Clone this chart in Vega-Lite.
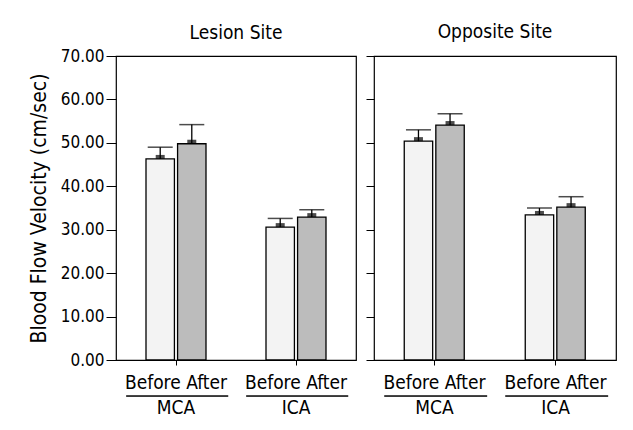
{
  "$schema": "https://vega.github.io/schema/vega-lite/v6.json",
  "padding": {"left": 27, "top": 21, "right": 10, "bottom": 5},
  "background": "white",
  "data": {"values": [
    {"site": "Lesion Site", "artery": "MCA", "time": "Before", "mean": 46.3, "upper": 49.0},
    {"site": "Lesion Site", "artery": "MCA", "time": "After", "mean": 49.8, "upper": 54.2},
    {"site": "Lesion Site", "artery": "ICA", "time": "Before", "mean": 30.6, "upper": 32.6},
    {"site": "Lesion Site", "artery": "ICA", "time": "After", "mean": 32.9, "upper": 34.6},
    {"site": "Opposite Site", "artery": "MCA", "time": "Before", "mean": 50.4, "upper": 53.0},
    {"site": "Opposite Site", "artery": "MCA", "time": "After", "mean": 54.1, "upper": 56.7},
    {"site": "Opposite Site", "artery": "ICA", "time": "Before", "mean": 33.4, "upper": 35.0},
    {"site": "Opposite Site", "artery": "ICA", "time": "After", "mean": 35.2, "upper": 37.6}
  ]},
  "config": {
    "font": "DejaVu Sans Condensed, DejaVu Sans, sans-serif",
    "view": {"stroke": "black", "strokeWidth": 1.2},
    "axis": {"labelColor": "black", "titleColor": "black", "tickColor": "black", "domain": false, "grid": false, "labelFontSize": 17, "titleFontSize": 21, "titleFontWeight": "normal", "tickSize": 8, "labelPadding": 2},
    "title": {"fontSize": 19, "fontWeight": "normal", "color": "black"}
  },
  "spacing": 7,
  "hconcat": [
    {
      "title": {"text": "Lesion Site", "offset": 4},
      "width": 240, "height": 304,
      "transform": [{"filter": "datum.site === 'Lesion Site'"}],
      "encoding": {
        "x": {"field": "artery", "type": "nominal", "sort": ["MCA", "ICA"], "title": null,
              "scale": {"paddingInner": 0.5, "paddingOuter": 0.25},
              "axis": {"labelAngle": 0, "labelExpr": "['Before After', datum.label]", "labelLineHeight": 25, "labelFontSize": 19, "labelPadding": 8, "tickSize": 5}}
      },
      "layer": [
        {"mark": {"type": "bar", "stroke": "black", "strokeWidth": 1.3},
         "encoding": {
           "xOffset": {"field": "time", "sort": ["Before", "After"], "scale": {"paddingInner": 0.1}},
           "y": {"field": "mean", "type": "quantitative", "title": "Blood Flow Velocity (cm/sec)", "scale": {"domain": [0, 70], "nice": false},
                 "axis": {"values": [0, 10, 20, 30, 40, 50, 60, 70], "format": ".2f", "titlePadding": 11, "tickSize": 10}},
           "fill": {"field": "time", "scale": {"domain": ["Before", "After"], "range": ["#f3f3f3", "#bcbcbc"]}, "legend": null}
         }},
        {"mark": {"type": "rule", "color": "black", "strokeWidth": 1.3},
         "encoding": {
           "xOffset": {"field": "time", "sort": ["Before", "After"], "scale": {"paddingInner": 0.1}},
           "y": {"field": "mean", "type": "quantitative", "title": "Blood Flow Velocity (cm/sec)"},
           "y2": {"field": "upper"}
         }},
        {"mark": {"type": "tick", "color": "black", "thickness": 1.5, "size": 25},
         "encoding": {
           "xOffset": {"field": "time", "sort": ["Before", "After"], "scale": {"paddingInner": 0.1}},
           "y": {"field": "upper", "type": "quantitative", "title": "Blood Flow Velocity (cm/sec)"}
         }},
        {"mark": {"type": "tick", "color": "black", "thickness": 4, "size": 9, "yOffset": -2},
         "encoding": {
           "xOffset": {"field": "time", "sort": ["Before", "After"], "scale": {"paddingInner": 0.1}},
           "y": {"field": "mean", "type": "quantitative", "title": "Blood Flow Velocity (cm/sec)"}
         }},
        {"mark": {"type": "rule", "color": "black", "strokeWidth": 1},
         "encoding": {
           "x": {"field": "artery", "type": "nominal", "sort": ["MCA", "ICA"], "bandPosition": -0.33},
           "x2": {"field": "artery", "bandPosition": 1.37},
           "y": {"datum": -8.3, "type": "quantitative", "title": "Blood Flow Velocity (cm/sec)"}
         }}
      ]
    },
    {
      "title": {"text": "Opposite Site", "offset": 14},
      "width": 242, "height": 304,
      "transform": [{"filter": "datum.site === 'Opposite Site'"}],
      "encoding": {
        "x": {"field": "artery", "type": "nominal", "sort": ["MCA", "ICA"], "title": null,
              "scale": {"paddingInner": 0.5, "paddingOuter": 0.25},
              "axis": {"labelAngle": 0, "labelExpr": "['Before After', datum.label]", "labelLineHeight": 25, "labelFontSize": 19, "labelPadding": 8, "tickSize": 5}}
      },
      "layer": [
        {"mark": {"type": "bar", "stroke": "black", "strokeWidth": 1.3},
         "encoding": {
           "xOffset": {"field": "time", "sort": ["Before", "After"], "scale": {"paddingInner": 0.1}},
           "y": {"field": "mean", "type": "quantitative", "title": null, "scale": {"domain": [0, 70], "nice": false},
                 "axis": {"values": [0, 10, 20, 30, 40, 50, 60, 70], "labels": false, "title": null}},
           "fill": {"field": "time", "scale": {"domain": ["Before", "After"], "range": ["#f3f3f3", "#bcbcbc"]}, "legend": null}
         }},
        {"mark": {"type": "rule", "color": "black", "strokeWidth": 1.3},
         "encoding": {
           "xOffset": {"field": "time", "sort": ["Before", "After"], "scale": {"paddingInner": 0.1}},
           "y": {"field": "mean", "type": "quantitative", "title": null},
           "y2": {"field": "upper"}
         }},
        {"mark": {"type": "tick", "color": "black", "thickness": 1.5, "size": 25},
         "encoding": {
           "xOffset": {"field": "time", "sort": ["Before", "After"], "scale": {"paddingInner": 0.1}},
           "y": {"field": "upper", "type": "quantitative", "title": null}
         }},
        {"mark": {"type": "tick", "color": "black", "thickness": 4, "size": 9, "yOffset": -2},
         "encoding": {
           "xOffset": {"field": "time", "sort": ["Before", "After"], "scale": {"paddingInner": 0.1}},
           "y": {"field": "mean", "type": "quantitative", "title": null}
         }},
        {"mark": {"type": "rule", "color": "black", "strokeWidth": 1},
         "encoding": {
           "x": {"field": "artery", "type": "nominal", "sort": ["MCA", "ICA"], "bandPosition": -0.33},
           "x2": {"field": "artery", "bandPosition": 1.37},
           "y": {"datum": -8.3, "type": "quantitative", "title": null}
         }}
      ]
    }
  ]
}
